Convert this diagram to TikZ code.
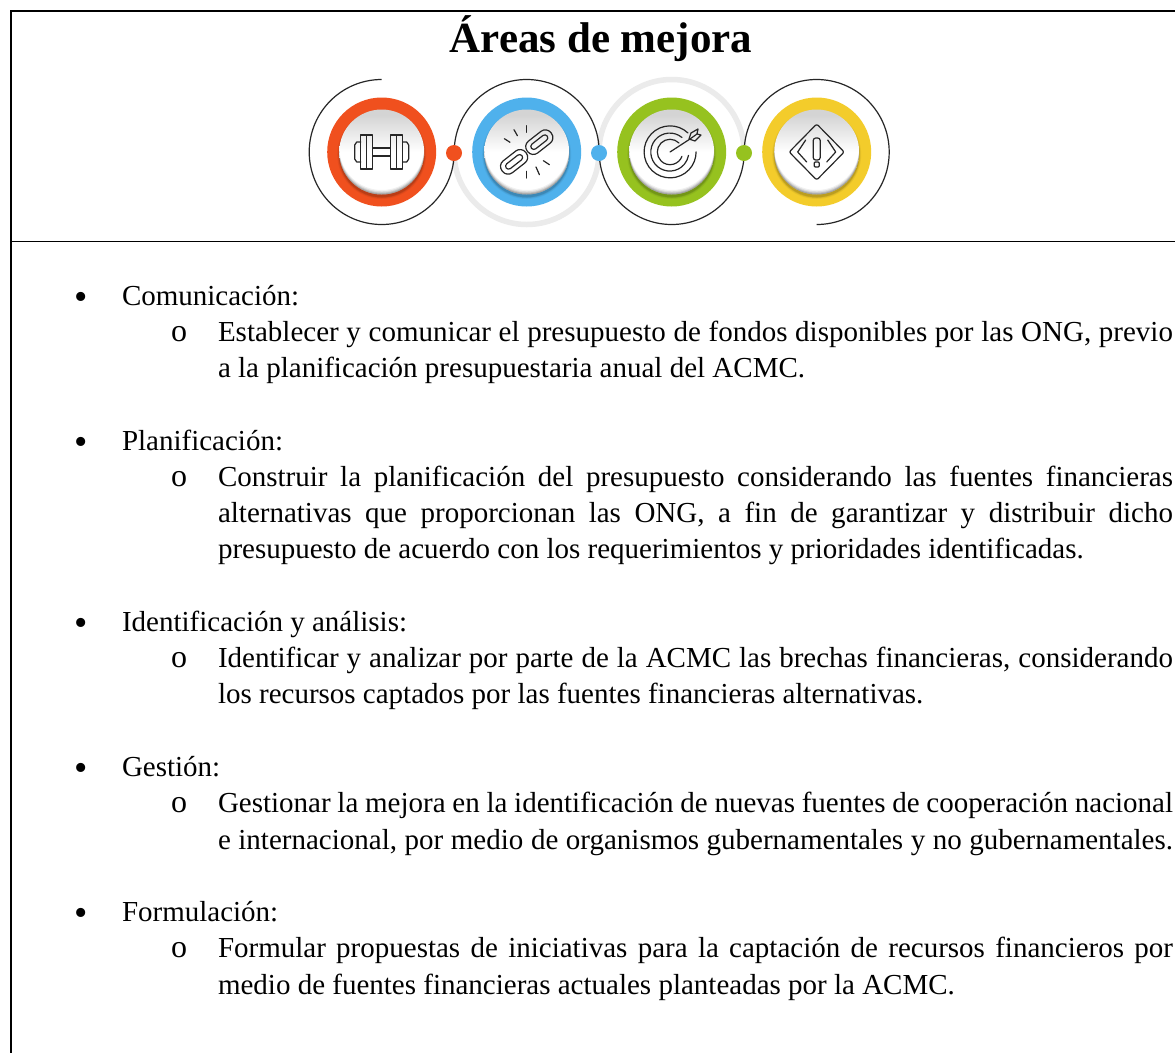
\documentclass[tikz,border=0pt]{standalone}
\usepackage{fontspec}
\setmainfont{Liberation Serif}
\definecolor{orangeR}{HTML}{F0501E}
\definecolor{blueR}{HTML}{4FB1EC}
\definecolor{greenR}{HTML}{96C21F}
\definecolor{yellowR}{HTML}{F3CC2B}
\pgfdeclareverticalshading{discshade}{100bp}{
  color(0bp)=(white); color(50bp)=(white); color(72bp)=(black!17); color(100bp)=(black!17)}
\tikzset{
  x=1pt,y=-1pt,
  frameline/.style={draw=black,line width=1.6pt},
  txt/.style={anchor=base west,inner sep=0pt,outer sep=0pt,font=\fontsize{29}{36}\selectfont},
  blt/.style={anchor=base,inner sep=0pt,outer sep=0pt,font=\fontsize{38}{40}\selectfont},
  sub/.style={anchor=base,inner sep=0pt,outer sep=0pt,font=\fontsize{32}{36}\selectfont},
  curve/.style={draw=black!85,line width=1.2pt},
  greyarc/.style={draw=black!8,line width=5.5pt},
  ico/.style={draw=black!85,line width=1.2pt,line join=round,line cap=round},
  dotm/.style={circle,inner sep=0pt,minimum size=16pt},
}
\newcommand{\just}[1]{\makebox[955pt][s]{#1}}
\newcommand{\badge}[2]{%
  \fill[#2] (#1,152) circle (54.5pt);
  \begin{scope}
    \clip (#1,152) circle (54.5pt);
    \foreach \r/\o in {44.5/.05,43.5/.08,42.8/.11}{
      \fill[black,opacity=\o] (#1,154.5) circle (\r pt);}
  \end{scope}
  \shade[shading=discshade] (#1,152) circle (42.5pt);
  \begin{scope}
    \clip (#1,152) circle (42.5pt);
    \foreach \d/\o in {1/.14,2/.12,3.2/.09,4.5/.06}{
      \fill[black,opacity=\o,even odd rule] (#1,152) circle (43pt) (#1,152-\d) circle (42.5pt);}
  \end{scope}
}
\begin{document}
\begin{tikzpicture}
\useasboundingbox (0,0) rectangle (1175,1053);
\fill[white] (0,0) rectangle (1175,1053);
% frame
\draw[frameline] (1175,11) -- (11,11) -- (11,1053);
\draw[frameline] (11,241.5) -- (1175,241.5);
% title
\node[anchor=base,inner sep=0pt,font=\fontsize{43}{50}\selectfont\bfseries] (title) at (601,52) {Áreas de mejora};
% grey arcs
\draw[greyarc] (454,152) .. controls (454,192) and (487,224.5) .. (526.7,224.5) .. controls (567,224.5) and (599,192) .. (599,152);
\draw[greyarc] (599,152) .. controls (599,112) and (632,79.5) .. (671.7,79.5) .. controls (712,79.5) and (744,112) .. (744,152);
% badges
\badge{381.7}{orangeR}
\badge{526.7}{blueR}
\badge{671.7}{greenR}
\badge{816.7}{yellowR}
% black line
\draw[curve] (381.7,79.5)
  .. controls (341.7,79.5) and (309.2,112) .. (309.2,152)
  .. controls (309.2,192) and (341.7,224.5) .. (381.7,224.5)
  .. controls (421.7,224.5) and (454.2,192) .. (454.2,152)
  .. controls (454.2,112) and (486.7,79.5) .. (526.7,79.5)
  .. controls (566.7,79.5) and (599.2,112) .. (599.2,152)
  .. controls (599.2,192) and (631.7,224.5) .. (671.7,224.5)
  .. controls (711.7,224.5) and (744.2,192) .. (744.2,152)
  .. controls (744.2,112) and (776.7,79.5) .. (816.7,79.5)
  .. controls (856.7,79.5) and (889.2,112) .. (889.2,152)
  .. controls (889.2,192) and (856.7,224.5) .. (816.7,224.5);
% dots
\node[dotm,fill=orangeR] (d1) at (454,153) {};
\node[dotm,fill=blueR] (d2) at (599,153) {};
\node[dotm,fill=greenR] (d3) at (744,153) {};
% dumbbell
\begin{scope}[shift={(381.7,152)},ico]
  \draw (-21,-10) -- (-25,-10) -- (-27,-7) -- (-27,7) -- (-25,10) -- (-21,10);
  \draw (-21,-17) rectangle (-9,17);
  \draw (-15,-17) -- (-15,17);
  \draw (-9,-4) rectangle (9,4);
  \draw (9,-17) rectangle (21,17);
  \draw (15,-17) -- (15,17);
  \draw (21,-10) -- (25,-10) -- (27,-7) -- (27,7) -- (25,10) -- (21,10);
\end{scope}
% chain
\begin{scope}[shift={(526.7,152)},ico]
  \draw (-12.7,-22.3) -- (-9.3,-16.3);
  \draw (0,-26.3) -- (0,-19.7);
  \draw (-22.3,-13.3) -- (-16.7,-9.7);
  \draw (0,19.3) -- (0,26);
  \draw (9.3,15) -- (12.7,22.7);
  \draw (16.7,8.7) -- (22.7,12.7);
  \begin{scope}[rotate=38]
    \draw[rounded corners=7pt] (-31,-7.5) rectangle (-1,7.5);
    \draw[rounded corners=3pt] (-26,-3) rectangle (-6,3);
    \draw[rounded corners=7pt] (1,-7.5) rectangle (31,7.5);
    \draw[rounded corners=3pt] (6,-3) rectangle (26,3);
  \end{scope}
\end{scope}
% target
\begin{scope}[shift={(670,152)},ico]
  \draw (18,-19) arc[start angle=-46.5,end angle=-360,radius=26];
  \draw (12,-14.5) arc[start angle=-50,end angle=-350,radius=19];
  \draw (9,-9) arc[start angle=-45,end angle=-340,radius=12.7];
  \draw (0,0) -- (20,-13);
  \draw (19,-13) -- (21,-19) -- (28,-23) -- (27,-18) -- (31,-17) -- (25,-11) -- cycle;
  \draw (20,-13) -- (27,-18);
\end{scope}
% warning sign
\begin{scope}[shift={(816.7,152)},ico]
  \draw[rounded corners=2pt] (0,-28) -- (27.5,0) -- (0,28) -- (-27.5,0) -- cycle;
  \draw (-11,-12) -- (-19,0) -- (-10,10);
  \draw (11,-12) -- (19,0) -- (10,10);
  \draw[rounded corners=2.5pt] (-3.5,-14) rectangle (3.5,8) ;
  \draw[rounded corners=1pt] (-2.5,10) rectangle (2.5,15);
\end{scope}
% text
\def\Lh{36.27}
\foreach \n/\t in {0/Comunicación:,4/Planificación:,9/Identificación y análisis:,13/Gestión:,17/Formulación:}{
  \node[blt] (b\n) at (81,305+4+\n*\Lh) {•};
  \node[txt] (h\n) at (122,305+\n*\Lh) {\t};
}
\foreach \n in {1,5,10,14,18}{
  \node[sub] (s\n) at (179,305+\n*\Lh) {o};
}
\node[txt] (l1) at (218,305+1*\Lh) {\just{Establecer y comunicar el presupuesto de fondos disponibles por las ONG, previo}};
\node[txt] (l2) at (218,305+2*\Lh) {a la planificación presupuestaria anual del ACMC.};
\node[txt] (l5) at (218,305+5*\Lh) {\just{Construir la planificación del presupuesto considerando las fuentes financieras}};
\node[txt] (l6) at (218,305+6*\Lh) {\just{alternativas que proporcionan las ONG, a fin de garantizar y distribuir dicho}};
\node[txt] (l7) at (218,305+7*\Lh) {presupuesto de acuerdo con los requerimientos y prioridades identificadas.};
\node[txt] (l10) at (218,305+10*\Lh) {\just{Identificar y analizar por parte de la ACMC las brechas financieras, considerando}};
\node[txt] (l11) at (218,305+11*\Lh) {los recursos captados por las fuentes financieras alternativas.};
\node[txt] (l14) at (218,305+14*\Lh) {\just{Gestionar la mejora en la identificación de nuevas fuentes de cooperación nacional}};
\node[txt] (l15) at (218,305+15*\Lh) {\just{e internacional, por medio de organismos gubernamentales y no gubernamentales.}};
\node[txt] (l18) at (218,305+18*\Lh) {\just{Formular propuestas de iniciativas para la captación de recursos financieros por}};
\node[txt] (l19) at (218,305+19*\Lh) {medio de fuentes financieras actuales planteadas por la ACMC.};
\end{tikzpicture}
\end{document}
